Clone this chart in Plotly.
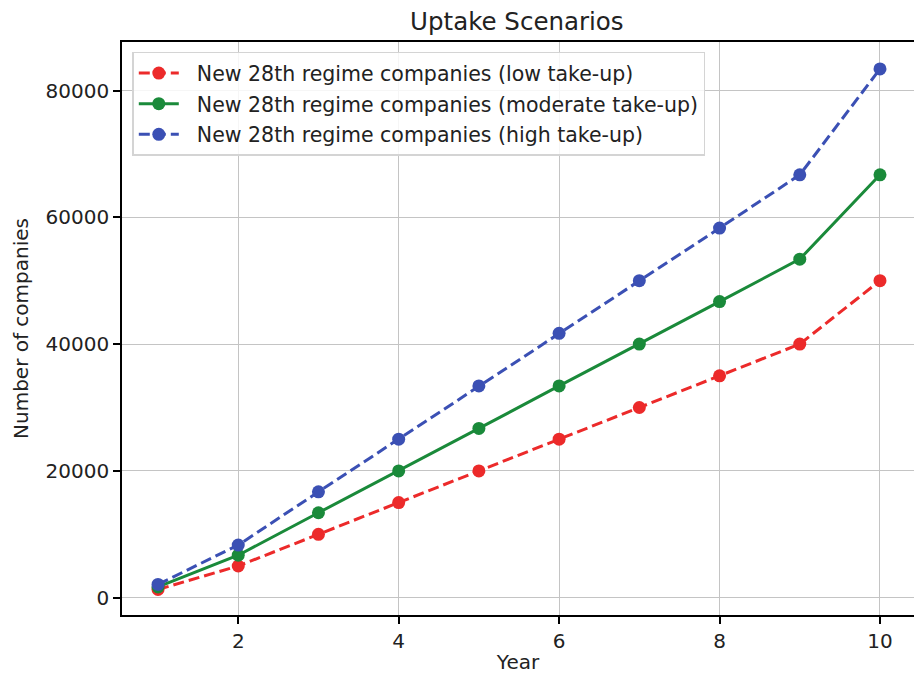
import plotly.graph_objects as go

years = [1, 2, 3, 4, 5, 6, 7, 8, 9, 10]
low_takeup = [1300, 5000, 10000, 15000, 20000, 25000, 30000, 35000, 40000, 50000]
moderate_takeup = [1700, 6700, 13400, 20000, 26700, 33400, 40000, 46700, 53400, 66700]
high_takeup = [2100, 8300, 16700, 25000, 33400, 41700, 50000, 58300, 66700, 83400]

series = [
    ("New 28th regime companies (low take-up)", low_takeup, "#ec2a2a", "11px,5px"),
    ("New 28th regime companies (moderate take-up)", moderate_takeup, "#1a8a3a", "solid"),
    ("New 28th regime companies (high take-up)", high_takeup, "#3b50b4", "11px,5px"),
]

FONT = "DejaVu Sans"
TXT = "#222222"
NB = "\u00a0"

fig = go.Figure()
for i, (name, vals, col, dash) in enumerate(series):
    fig.add_trace(go.Scatter(
        x=years, y=vals, name=NB + NB + name, mode="lines+markers",
        line=dict(color=col, width=3, dash=dash),
        marker=dict(color=col, size=13),
        legendgroup="g%d" % i,
    ))

fig.update_layout(
    width=914, height=677,
    margin=dict(l=122, r=0, t=42, b=62),
    paper_bgcolor="white", plot_bgcolor="white",
    font=dict(family=FONT, size=20, color=TXT),
    title=dict(text="Uptake Scenarios", x=0.5655, xanchor="center", y=0.968, yanchor="middle",
               font=dict(size=24.5, family=FONT, color=TXT)),
    legend=dict(x=0.013, y=0.983, xanchor="left", yanchor="top",
                bgcolor="rgba(255,255,255,0.85)", bordercolor="#d4d4d4", borderwidth=1.5,
                font=dict(size=20.5, family=FONT, color=TXT),
                traceorder="grouped", tracegroupgap=1, itemwidth=40),
    showlegend=True,
)
fig.update_xaxes(
    range=[0.551, 10.424], tickvals=[2, 4, 6, 8, 10],
    showgrid=True, gridcolor="#c4c4c4", gridwidth=1.3,
    showline=True, linecolor="black", linewidth=1.6, mirror=True,
    ticks="outside", ticklen=7, tickwidth=1.6, tickcolor="black",
    zeroline=False,
    title=dict(text="Year", standoff=3, font=dict(size=20, family=FONT, color=TXT)),
)
fig.update_yaxes(
    range=[-2730, 87650], tickvals=[0, 20000, 40000, 60000, 80000], tickformat="d",
    showgrid=True, gridcolor="#c4c4c4", gridwidth=1.3,
    showline=True, linecolor="black", linewidth=1.6, mirror=False,
    ticks="outside", ticklen=7, tickwidth=1.6, tickcolor="black",
    zeroline=False,
    title=dict(text="Number of companies", standoff=12, font=dict(size=20, family=FONT, color=TXT)),
)

fig.write_html(
    "out.html",
    config={"displayModeBar": False},
    post_script="document.body.style.margin='0';document.body.style.overflow='hidden';",
)
